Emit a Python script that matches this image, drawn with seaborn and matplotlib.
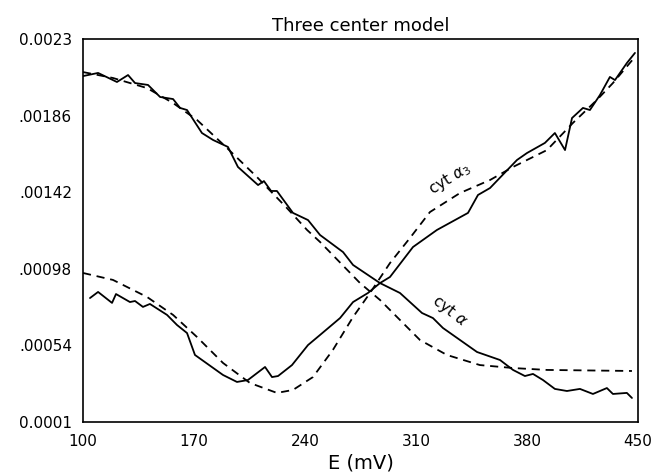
import numpy as np
import pandas as pd
import seaborn as sns
import matplotlib.pyplot as plt

# --- DADOS ---
# cyt a (curva medida, linha cheia)
cyt_a_E = [100, 109.5, 121.4, 128.4, 132.8, 141.0, 148.6, 156.8, 161.2, 165.6,
           175.0, 182.0, 191.4, 197.7, 210.4, 214.1, 218.6, 222.3, 232.4, 241.9,
           249.5, 264.0, 270.3, 287.3, 299.9, 313.8, 320.7, 327.0, 348.5, 363.0,
           371.2, 378.7, 383.8, 390.1, 397.6, 405.2, 413.4, 421.6, 430.4, 434.2,
           443.0, 446.2]
cyt_a_obs = [0.002087, 0.002105, 0.002053, 0.002093, 0.002047, 0.002036, 0.001967,
             0.001955, 0.001904, 0.001892, 0.001760, 0.001720, 0.001680, 0.001565,
             0.001461, 0.001484, 0.001427, 0.001427, 0.001301, 0.001260, 0.001174,
             0.001076, 0.001002, 0.000898, 0.000841, 0.000726, 0.000697, 0.000640,
             0.000502, 0.000456, 0.000399, 0.000364, 0.000376, 0.000341, 0.000290,
             0.000278, 0.000290, 0.000261, 0.000295, 0.000261, 0.000267, 0.000238]

# cyt a (ajuste do modelo, tracejado)
cyt_a_fit_E = [100, 118.9, 140.4, 156.8, 171.9, 190.8, 209.7, 228.6, 241.3, 249.5,
               274.7, 287.3, 299.9, 312.5, 329.5, 350.3, 371.2, 392.6, 446.2]
cyt_a_fit = [0.002110, 0.002076, 0.002018, 0.001932, 0.001835, 0.001674, 0.001507,
             0.001329, 0.001203, 0.001134, 0.000898, 0.000801, 0.000686, 0.000571,
             0.000485, 0.000427, 0.000410, 0.000399, 0.000393]

# cyt a3 (curva medida, linha cheia)
cyt_a3_E = [104.4, 109.5, 118.3, 120.8, 129.6, 132.8, 137.8, 142.2, 153.0, 159.3,
            165.6, 170.6, 188.3, 197.1, 204.0, 214.8, 219.2, 223.0, 231.8, 241.9,
            249.5, 262.1, 270.3, 279.7, 287.3, 293.6, 308.1, 323.2, 342.8, 349.1,
            356.7, 373.7, 380.0, 391.3, 397.6, 404.0, 408.4, 415.3, 419.7, 426.0,
            432.3, 435.5, 443.0, 448.1]
cyt_a3_obs = [0.000812, 0.000847, 0.000784, 0.000835, 0.000789, 0.000795, 0.000761,
              0.000778, 0.000715, 0.000657, 0.000611, 0.000485, 0.000370, 0.000330,
              0.000341, 0.000416, 0.000358, 0.000364, 0.000427, 0.000542, 0.000600,
              0.000697, 0.000789, 0.000841, 0.000898, 0.000933, 0.001105, 0.001203,
              0.001301, 0.001404, 0.001444, 0.001605, 0.001645, 0.001703, 0.001760,
              0.001662, 0.001846, 0.001904, 0.001892, 0.001978, 0.002082, 0.002064,
              0.002162, 0.002220]

# cyt a3 (ajuste do modelo, tracejado)
cyt_a3_fit_E = [100, 118.9, 140.4, 156.8, 171.9, 188.3, 205.3, 222.3, 232.4, 245.0,
                257.6, 270.3, 281.0, 293.6, 306.2, 318.8, 337.7, 356.7, 371.2, 392.6,
                409.0, 424.1, 434.2, 448.1]
cyt_a3_fit = [0.000956, 0.000916, 0.000818, 0.000715, 0.000588, 0.000439, 0.000324,
              0.000267, 0.000284, 0.000358, 0.000514, 0.000703, 0.000841, 0.001013,
              0.001157, 0.001306, 0.001415, 0.001490, 0.001565, 0.001662, 0.001818,
              0.001950, 0.002047, 0.002197]

x_ticks = [100, 170, 240, 310, 380, 450]
y_ticks = [0.0001, 0.00054, 0.00098, 0.00142, 0.00186, 0.0023]
y_tick_labels = ["0.0001", ".00054", ".00098", ".00142", ".00186", "0.0023"]


def desenhar_grafico(arquivo_saida: str):
    sns.set_style("white")
    plt.rcParams['font.family'] = ['DejaVu Sans']
    plt.rcParams['text.color'] = 'black'
    plt.rcParams['axes.labelcolor'] = 'black'

    fig, ax = plt.subplots(figsize=(6.62, 4.75), dpi=100)
    fig.subplots_adjust(left=0.1254, right=0.9637, bottom=0.1116, top=0.9179)

    curvas = [
        (cyt_a_E, cyt_a_obs, '-'),
        (cyt_a_fit_E, cyt_a_fit, '--'),
        (cyt_a3_E, cyt_a3_obs, '-'),
        (cyt_a3_fit_E, cyt_a3_fit, '--'),
    ]
    for xs, ys, estilo in curvas:
        df = pd.DataFrame({'E': xs, 'valor': ys})
        linha = sns.lineplot(data=df, x='E', y='valor', ax=ax, color='black',
                             linewidth=1.3, estimator=None, sort=False)
        ln = linha.get_lines()[-1]
        if estilo == '--':
            ln.set_dashes((4.5, 3.2))

    ax.set_xlim(100, 450)
    ax.set_ylim(0.0001, 0.0023)
    ax.set_xticks(x_ticks)
    ax.set_xticklabels([str(t) for t in x_ticks])
    ax.set_yticks(y_ticks)
    ax.set_yticklabels(y_tick_labels)
    ax.tick_params(direction='in', length=5, width=1.1, labelsize=11,
                   colors='black', top=False, right=False)
    ax.tick_params(axis='x', pad=9)
    ax.tick_params(axis='y', pad=8)

    for spine in ax.spines.values():
        spine.set_visible(True)
        spine.set_color('black')
        spine.set_linewidth(1.2)

    ax.set_xlabel('E (mV)', fontsize=14, color='black')
    ax.xaxis.set_label_coords(0.5, -0.082)
    ax.set_ylabel('')
    ax.set_title('Three center model', fontsize=13, pad=6, color='black')

    ax.text(331.4, 0.001496, 'cyt $\\alpha_3$', fontsize=11, rotation=32,
            ha='center', va='center', color='black')
    ax.text(331.4, 0.000738, 'cyt $\\alpha$', fontsize=11, rotation=-38,
            ha='center', va='center', color='black')

    fig.savefig(arquivo_saida, dpi=100)
    plt.close(fig)


def main():
    desenhar_grafico('out.png')


if __name__ == "__main__":
    main()
